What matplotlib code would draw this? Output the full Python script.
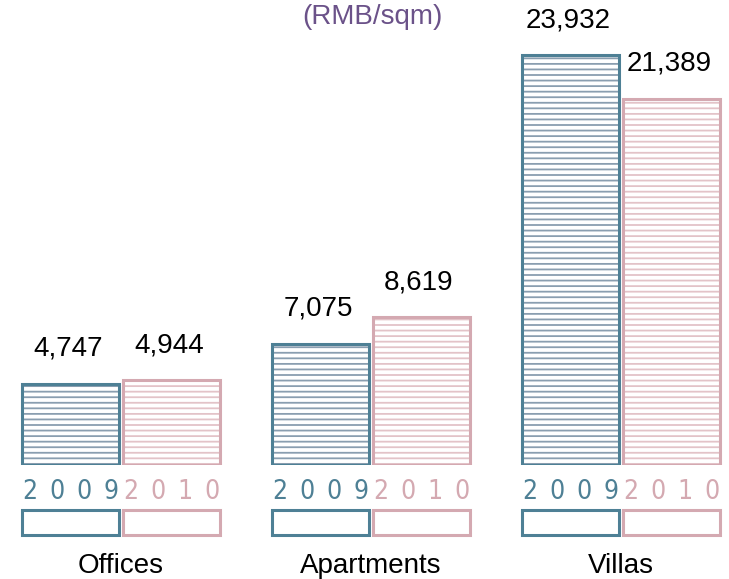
import matplotlib
matplotlib.use("Agg")
import matplotlib.pyplot as plt
from matplotlib.patches import Rectangle

categories = ["Offices", "Apartments", "Villas"]
years = ["2009", "2010"]
values_2009 = [4747, 7075, 23932]
values_2010 = [4944, 8619, 21389]

plt.rcParams['font.family'] = ['Liberation Sans', 'DejaVu Sans']
plt.rcParams['hatch.linewidth'] = 1.3

W, H = 729, 579
fig = plt.figure(figsize=(W / 100, H / 100), dpi=100)
ax = fig.add_axes([0, 114 / H, 1, 465 / H])
ax.set_xlim(-0.484, 2.432)
ax.set_ylim(0, 27145)
ax.axis('off')

edge_cols = ["#4e8095", "#d4a9b1"]
hatch_cols = ["#8a9eb0", "#e3c3c8"]
width = 0.388
offset = 0.202
x = list(range(len(categories)))
px_unit = 27145 / 465  # data units per pixel (y)

for s, (yr, vals) in enumerate(zip(years, [values_2009, values_2010])):
    xs = [xi + (s - 0.5) * 2 * offset for xi in x]
    ax.bar(xs, vals, width=width, color="white", edgecolor=hatch_cols[s],
           hatch='---', linewidth=0)
    ax.bar(xs, vals, width=width, fill=False, edgecolor=edge_cols[s],
           linewidth=2.2)
    for xc, v in zip(xs, vals):
        ax.text(xc - 0.01, v + 35 * px_unit, f"{v:,}", ha='center',
                va='center', fontsize=20, color='black')
        # year label digits
        for k, ch in enumerate(yr):
            dx = (k - 1.5) * 27.3 / 250
            ax.text(xc + dx, -27 * px_unit, ch, ha='center', va='center',
                    fontsize=19, color=edge_cols[s], family='DejaVu Sans',
                    fontstretch='condensed', fontweight='light',
                    clip_on=False)
        # small legend box
        ax.add_patch(Rectangle((xc - width / 2, -70 * px_unit), width,
                               25 * px_unit, fill=False,
                               edgecolor=edge_cols[s], linewidth=2.2,
                               clip_on=False))

for xi, c in zip(x, categories):
    ax.text(xi, -101 * px_unit, c, ha='center', va='center', fontsize=20,
            color='black', clip_on=False)

fig.text(372 / W, 1 - 17 / H, "(RMB/sqm)", ha='center', va='center',
         fontsize=20, color="#6b5289")

fig.savefig("out.png", dpi=100)
